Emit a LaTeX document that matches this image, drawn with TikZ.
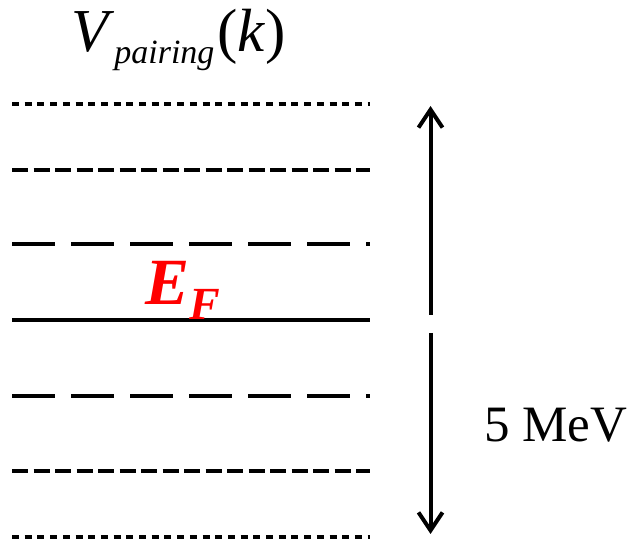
\documentclass[tikz,border=0pt]{standalone}
\usepackage{fontspec}
\setmainfont{Liberation Serif}[ItalicFont={Liberation Serif Italic},BoldItalicFont={Liberation Serif Bold Italic},BoldFont={Liberation Serif Bold}]
\usetikzlibrary{arrows.meta}
\begin{document}
\begin{tikzpicture}[x=1pt,y=1pt,
  lvl/.style={line width=4pt},
  dotlvl/.style={lvl,dash pattern=on 7pt off 5.7pt},
  shortlvl/.style={lvl,dash pattern=on 16pt off 5.5pt},
  longlvl/.style={lvl,dash pattern=on 43pt off 16pt},
  arr/.style={line width=4pt,-{Straight Barb[length=18pt,width=24pt]}}]
\useasboundingbox (0,0) rectangle (634,540);
% levels (y = 540 - pixel row)
\foreach \n/\y in {l1/436,l2/370,l3/296,l4/220,l5/144,l6/69,l7/3}{
  \coordinate (\n a) at (12,\y);
  \coordinate (\n b) at (370,\y);
}
\draw[dotlvl] (l1a) -- (l1b);
\draw[shortlvl] (l2a) -- (l2b);
\draw[longlvl] (l3a) -- (l3b);
\draw[lvl] (l4a) -- (l4b);
\draw[longlvl] (l5a) -- (l5b);
\draw[shortlvl] (l6a) -- (l6b);
\draw[dotlvl] (l7a) -- (l7b);
% labels
\node[anchor=base west,inner sep=0pt] (vp) at (71,488)
  {\fontsize{61}{61}\selectfont\textit{V}\raisebox{-12pt}{\fontsize{34}{34}\selectfont\textit{pairing}}\kern3pt(\textit{k})};
\node[anchor=base west,inner sep=0pt,text=red] (ef) at (145,235)
  {\fontsize{66}{66}\selectfont\textbf{\textit{E}}\raisebox{-15pt}{\fontsize{46}{46}\selectfont\textbf{\textit{F}}}};
\node[anchor=base west,inner sep=0pt] (mev) at (484,98)
  {\fontsize{51}{51}\selectfont 5 MeV};
% arrows
\coordinate (ut) at (430.5,434);
\coordinate (ub) at (430.5,225);
\coordinate (lt) at (430.5,207);
\coordinate (lb) at (430.5,6);
\draw[arr] (ub) -- (ut);
\draw[arr] (lt) -- (lb);
\end{tikzpicture}
\end{document}
